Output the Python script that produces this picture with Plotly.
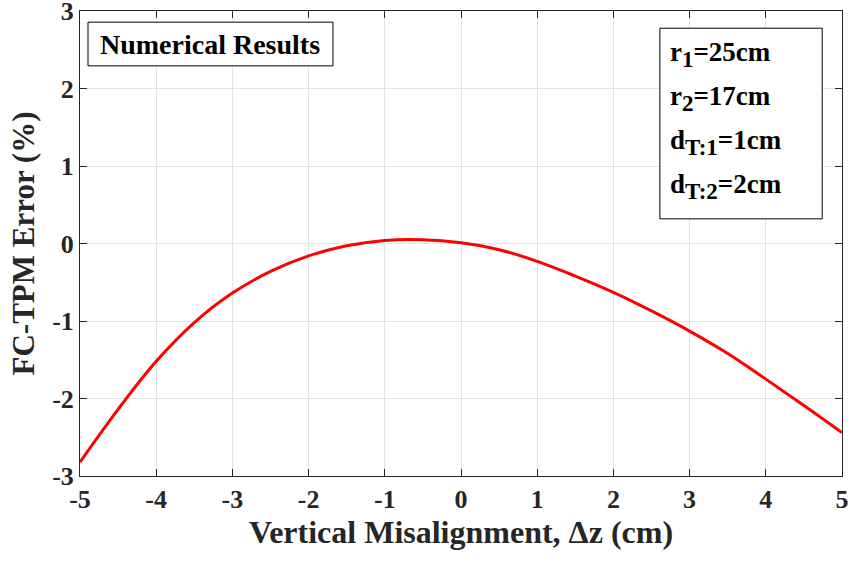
import plotly.graph_objects as go

# Data
dz = [-5.0, -4.5, -4.0, -3.5, -3.0, -2.5, -2.0, -1.5, -1.0, -0.5, 0.0, 0.5, 1.0, 1.5, 2.0, 2.5, 3.0, 3.5, 4.0, 4.5, 5.0]
err = [-2.82, -2.14, -1.52, -1.02, -0.64, -0.36, -0.16, -0.03, 0.04, 0.05, 0.01, -0.08, -0.23, -0.42, -0.63, -0.87, -1.13, -1.42, -1.75, -2.09, -2.44]

x_ticks = [-5, -4, -3, -2, -1, 0, 1, 2, 3, 4, 5]
y_ticks = [-3, -2, -1, 0, 1, 2, 3]

param_names = ["r", "r", "d", "d"]
param_subs = ["1", "2", "T:1", "T:2"]
param_vals = ["=25cm", "=17cm", "=1cm", "=2cm"]

FONT = "Liberation Serif"
DARK = "#262626"

fig = go.Figure()
fig.add_trace(go.Scatter(x=dz, y=err, mode="lines",
                         line=dict(color="#ff0000", width=3, shape="spline", smoothing=1.0),
                         showlegend=False, hoverinfo="skip"))

axis_common = dict(showline=True, linecolor=DARK, linewidth=1, mirror="ticks",
                   ticks="inside", ticklen=7, tickcolor=DARK, automargin=False,
                   ticklabeloverflow="allow",
                   showgrid=True, gridcolor="#e3e3e3", gridwidth=1, zeroline=False,
                   tickfont=dict(family=FONT, size=26, color=DARK, weight="bold"))

fig.update_xaxes(range=[-5, 5], tickvals=x_ticks, ticktext=[str(v) for v in x_ticks],
                 title=dict(text="Vertical Misalignment, Δz (cm)", standoff=6,
                            font=dict(family=FONT, size=32, color=DARK, weight="bold")),
                 **axis_common)
fig.update_yaxes(range=[-3, 3], tickvals=y_ticks, ticktext=[str(v) for v in y_ticks],
                 title=dict(text="FC-TPM Error (%)", standoff=8,
                            font=dict(family=FONT, size=31, color=DARK, weight="bold")),
                 **axis_common)

# Numerical results box
fig.add_shape(type="rect", xref="paper", yref="paper", x0=0.0105, x1=0.332, y0=0.882, y1=0.976,
              line=dict(color="black", width=1), fillcolor="white", layer="above")
fig.add_annotation(xref="paper", yref="paper", x=0.171, y=0.929, text="Numerical Results",
                   showarrow=False, font=dict(family=FONT, size=28, color="black", weight="bold"),
                   xanchor="center", yanchor="middle")

# Parameter box
fig.add_shape(type="rect", xref="paper", yref="paper", x0=0.761, x1=0.974, y0=0.553, y1=0.963,
              line=dict(color="black", width=1), fillcolor="white", layer="above")
line_y_px = [55, 99, 142, 186]
for name, sub, val, py in zip(param_names, param_subs, param_vals, line_y_px):
    txt = f"{name}<sub><span style='font-size:23px'>{sub}</span></sub>{val}"
    fig.add_annotation(xref="paper", yref="paper", x=(668 - 80) / 762, y=(476 - py) / 465,
                       text=txt, showarrow=False, xanchor="left", yanchor="middle",
                       font=dict(family=FONT, size=27, color="black", weight="bold"))

fig.update_layout(width=853, height=563, margin=dict(l=80, r=11, t=11, b=87),
                  paper_bgcolor="white", plot_bgcolor="white")

fig.write_html("out.html", config={"displayModeBar": False},
               post_script="document.body.style.margin='0px';document.body.style.overflow='hidden';")
